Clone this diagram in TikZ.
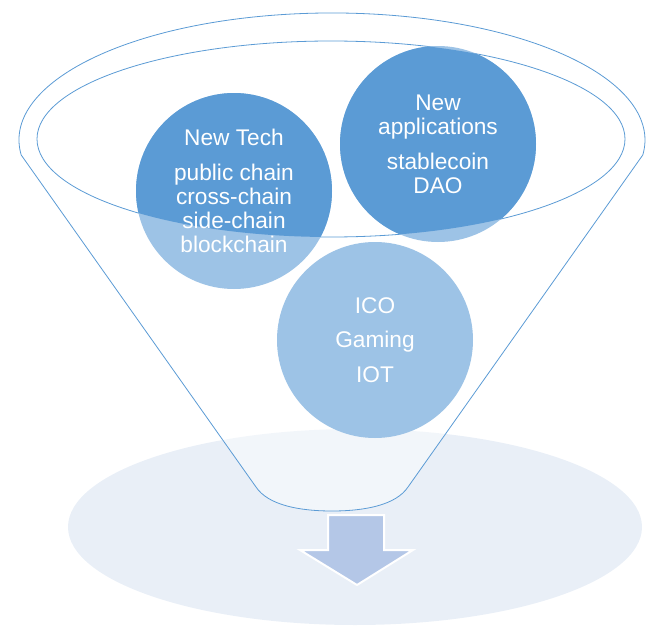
\documentclass[tikz,border=0pt]{standalone}
\usepackage{fontspec}
\setmainfont{Liberation Sans}
\definecolor{darkblue}{RGB}{91,155,213}
\definecolor{lightblue}{RGB}{157,195,230}
\definecolor{paleblue}{RGB}{233,239,247}
\definecolor{arrowblue}{RGB}{180,199,231}

\tikzset{every picture/.style={line width=0.75pt}}
\tikzset{
  bubble/.style={circle, fill=lightblue, minimum size=147pt, inner sep=0pt},
  bubbletext/.style={text=white, align=center, inner sep=0pt, font=\fontsize{17}{18}\selectfont},
  funnelline/.style={draw=darkblue, line width=0.6pt},
}

\begin{document}
\begin{tikzpicture}[x=0.75pt,y=0.75pt,yscale=-1,xscale=1]
\useasboundingbox (0,0) rectangle (665,639);

% Base Ellipse
\fill[paleblue] (355,527) ellipse [x radius=287, y radius=98];
% Funnel
\draw[funnelline, fill=white, fill opacity=0.45] (21.2,155) arc [start angle=173.2, end angle=366.8, x radius=313, y radius=127] -- (408,487) .. controls (396,505) and (365,511) .. (332,511) .. controls (299,511) and (268,505) .. (256,487) -- cycle;
% Inner Ellipse
\draw[funnelline] (331,139) ellipse [x radius=294, y radius=98];

% Circle Nodes
\node[bubble] (tech) at (234,191) {};
\node[bubble] (apps) at (438,144) {};
\node[bubble] (ico) at (375,340) {};
\begin{scope}
\clip (331,139) ellipse [x radius=294, y radius=98];
\fill[darkblue] (tech.center) circle [radius=98];
\fill[darkblue] (apps.center) circle [radius=98];
\end{scope}

% Text Node
\node[bubbletext] (techtext) at (tech) {New Tech\\[8pt]public chain\\cross-chain\\side-chain\\blockchain};
% Text Node
\node[bubbletext] (appstext) at (apps) {New\\applications\\[8pt]stablecoin\\DAO};
% Text Node
\node[bubbletext] (icotext) at (ico) {ICO\\[8pt]Gaming\\[8pt]IOT};

% Arrow
\draw[white, fill=arrowblue, line width=1.5pt] (328,515) -- (384,515) -- (384,550) -- (413,550) -- (357,585) -- (300,550) -- (328,550) -- cycle;

\end{tikzpicture}
\end{document}
